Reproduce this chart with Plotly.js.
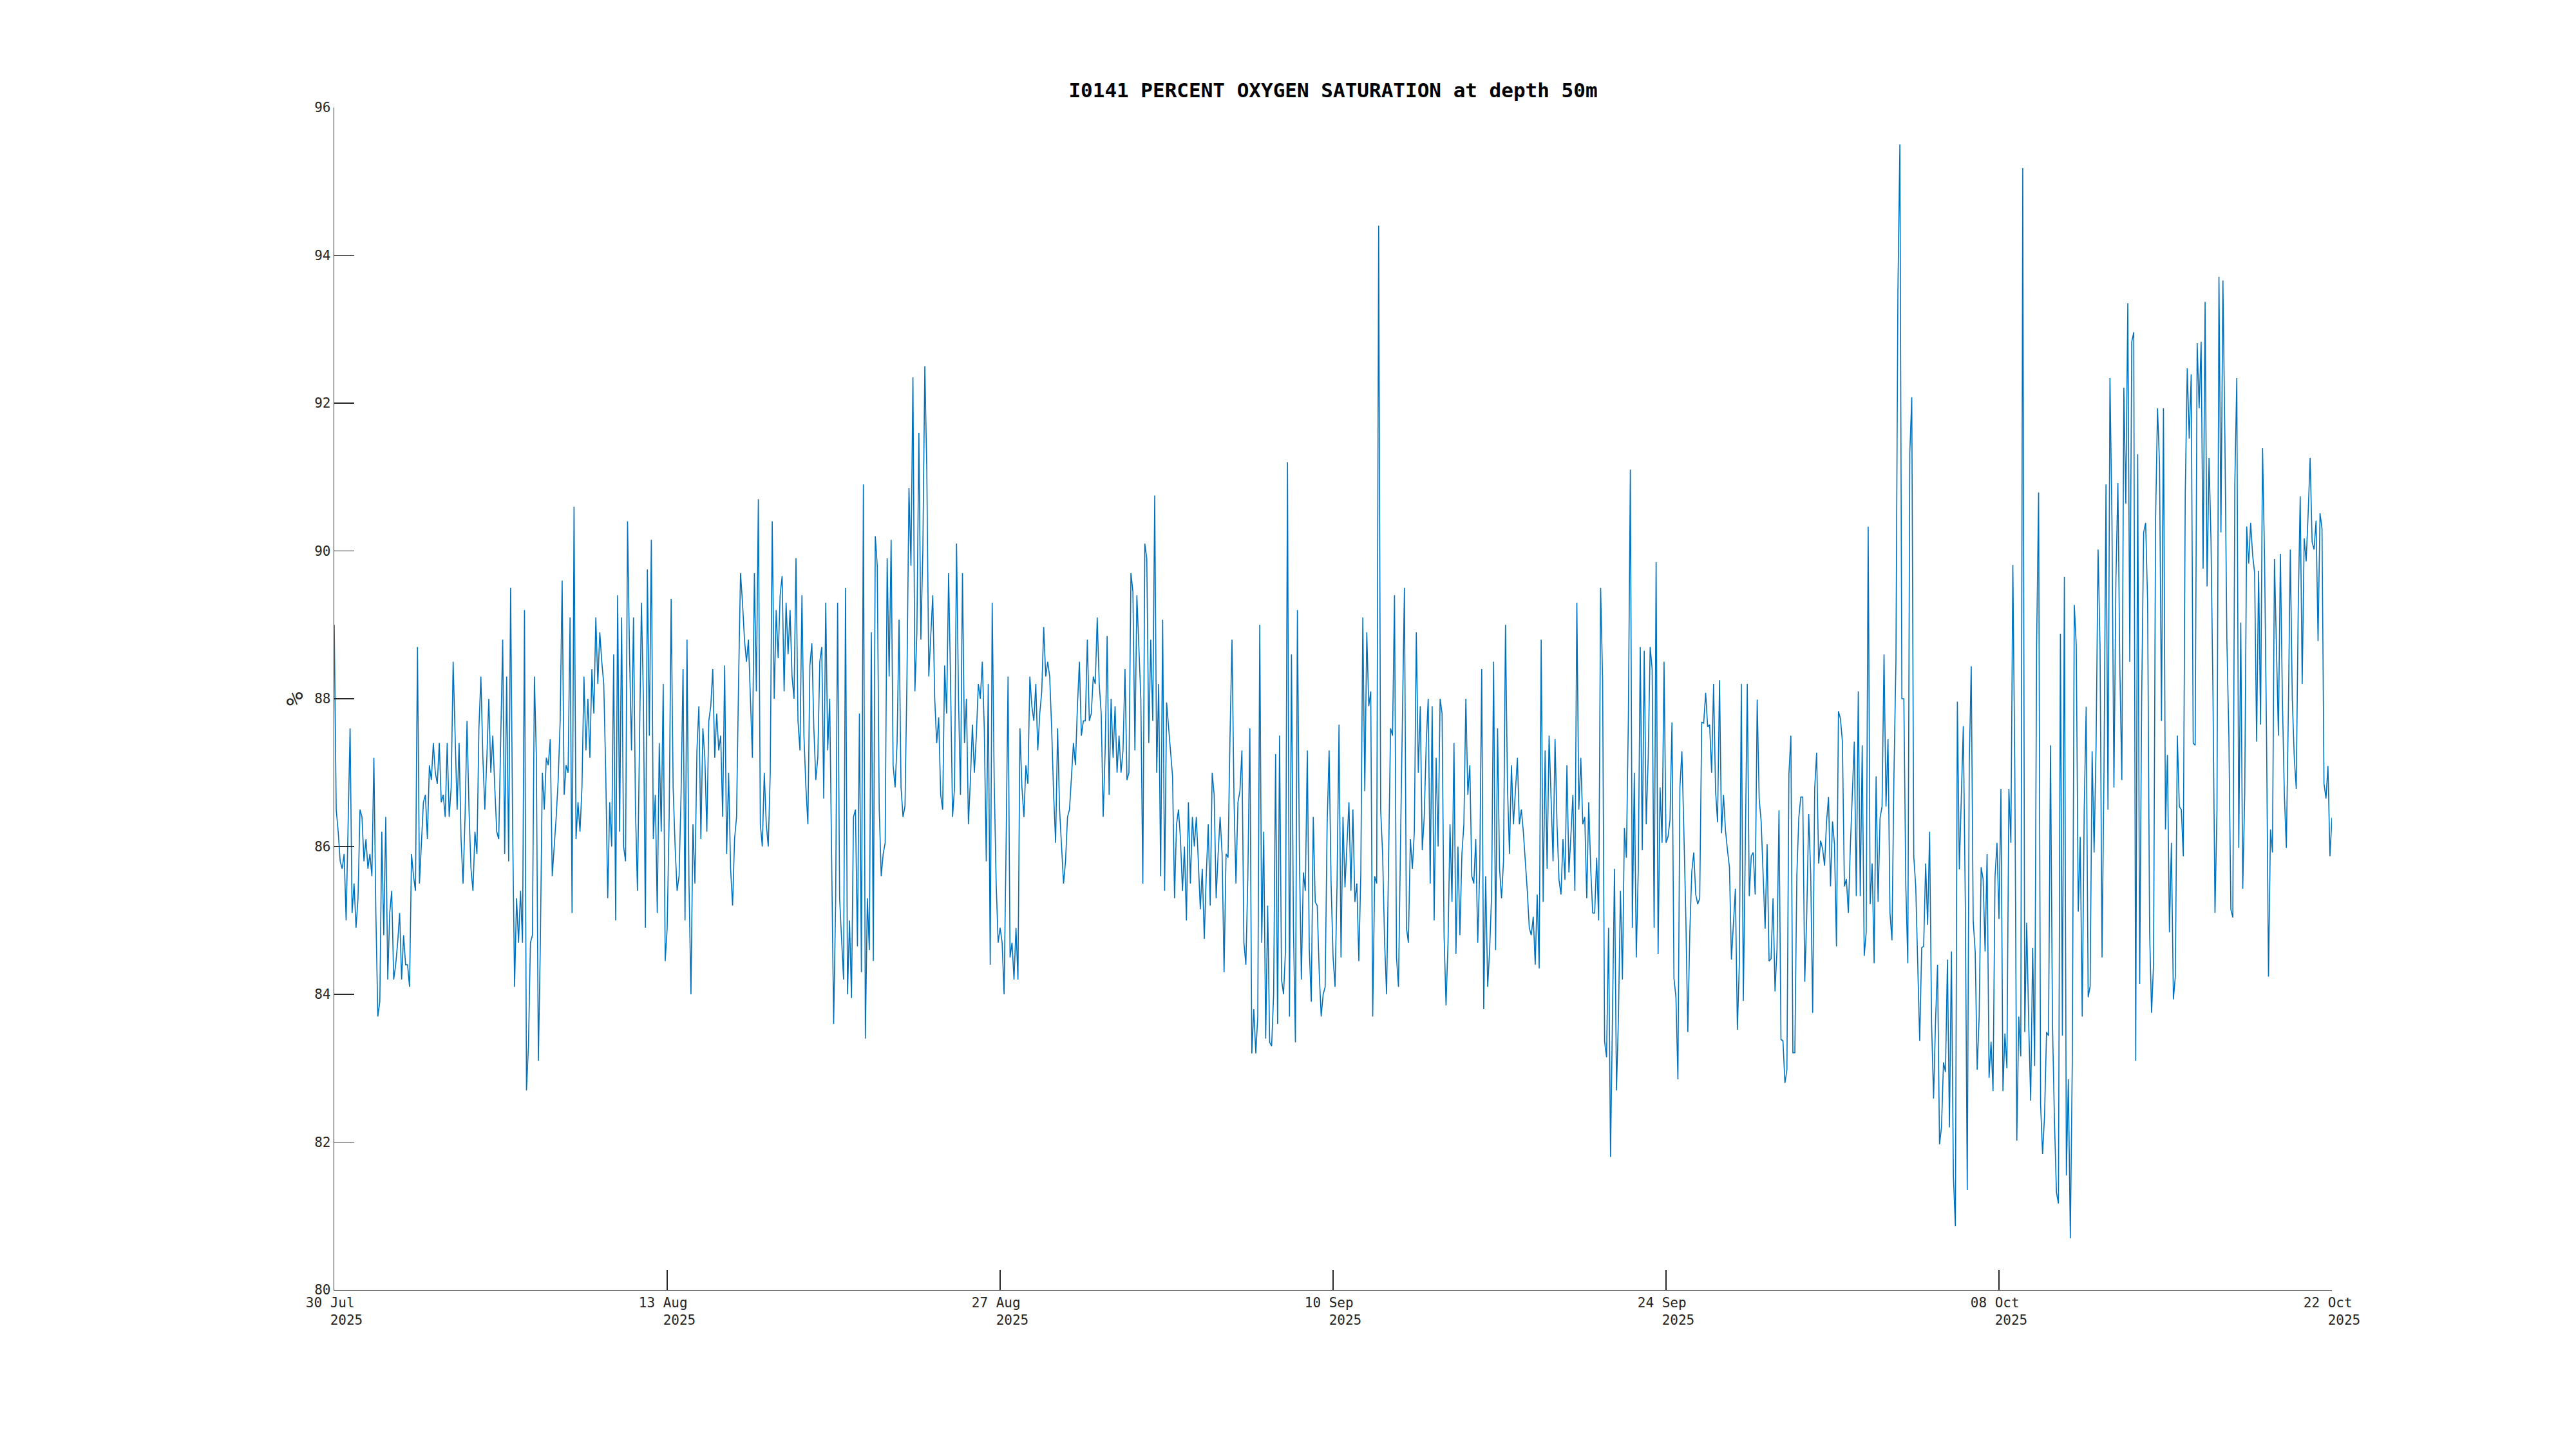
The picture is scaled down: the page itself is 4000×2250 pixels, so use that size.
<!DOCTYPE html>
<html>
<head>
<meta charset="utf-8">
<script src="https://cdn.plot.ly/plotly-3.0.1.min.js"></script>
<style>
html,body{margin:0;padding:0;background:#ffffff;}
#chart{width:4000px;height:2250px;}
</style>
</head>
<body>
<div id="chart"></div>
<script>
// ---- DATA (percent oxygen saturation, 2-hourly, starting 30 Jul 2025 00:00) ----
const startTime = '2025-07-30T00:00:00';
const stepHours = 2;

const week01 = [
 89.0,86.5,86.2,85.8,85.7,85.9,85.0,86.3,87.6,85.1,85.5,84.9,
 85.3,86.5,86.4,85.8,86.1,85.7,85.9,85.6,87.2,85.1,83.7,83.9,
 86.2,84.8,86.4,84.2,85.1,85.4,84.2,84.4,84.7,85.1,84.2,84.8,
 84.4,84.4,84.1,85.9,85.6,85.4,88.7,85.5,86.0,86.6,86.7,86.1,
 87.1,86.9,87.4,87.0,86.85,87.4,86.6,86.7,86.4,87.4,86.4,86.8,
 88.5,87.6,86.5,87.4,86.1,85.5,86.4,87.7,86.5,85.7,85.4,86.2,
 85.9,87.6,88.3,87.2,86.5,87.2,88.0,87.0,87.5,86.8,86.2,86.1];
const week02 = [
 87.6,88.8,85.9,88.3,85.8,89.5,86.3,84.1,85.3,84.7,85.4,84.7,
 89.2,82.7,83.3,84.7,84.8,88.3,87.2,83.1,84.7,87.0,86.5,87.2,
 87.1,87.45,85.6,86.0,86.4,86.9,87.7,89.6,86.7,87.1,87.0,89.1,
 85.1,90.6,86.1,86.6,86.2,86.8,88.3,87.3,88.0,87.2,88.4,87.8,
 89.1,88.2,88.9,88.5,88.2,87.0,85.3,86.6,86.0,88.6,85.0,89.4,
 86.2,89.1,86.0,85.8,90.4,88.6,87.3,89.1,86.5,85.4,87.2,89.3,
 88.0,84.9,89.75,87.5,90.15,86.1,86.7,85.1,87.4,86.2,88.2,84.45];
const week03 = [
 84.9,86.4,89.35,86.8,86.0,85.4,85.6,86.7,88.4,85.0,88.8,85.5,
 84.0,86.3,85.5,87.3,87.9,86.1,87.6,87.2,86.2,87.7,87.9,88.4,
 87.2,87.8,87.3,87.5,86.4,88.45,85.9,87.0,85.7,85.2,86.1,86.4,
 88.2,89.7,89.3,88.8,88.5,88.8,88.0,87.2,89.7,88.1,90.7,86.3,
 86.0,87.0,86.3,86.0,87.0,90.4,88.0,89.2,88.55,89.4,89.66,88.1,
 89.3,88.6,89.2,88.3,88.0,89.9,87.7,87.3,89.4,87.5,86.8,86.3,
 88.45,88.75,87.6,86.9,87.2,88.5,88.7,86.65,89.3,87.3,88.0,86.0];
const week04 = [
 83.6,85.25,89.3,85.3,84.8,84.2,89.5,84.0,85.0,83.95,86.4,86.5,
 84.65,87.8,84.3,90.9,83.4,85.3,84.6,88.9,84.45,90.2,89.8,86.5,
 85.6,85.9,86.05,89.9,88.3,90.15,87.1,86.8,87.4,89.07,86.8,86.4,
 86.55,88.3,90.85,89.8,92.35,88.1,88.9,91.6,88.8,90.0,92.5,91.1,
 88.3,88.9,89.4,88.0,87.4,87.75,86.7,86.5,88.45,87.8,89.7,88.2,
 86.4,86.8,90.1,88.0,86.7,89.7,87.4,88.0,86.3,86.9,87.65,87.0,
 87.5,88.2,88.0,88.5,87.6,85.8,88.2,84.4,89.3,86.9,85.5,84.7];
const week05 = [
 84.9,84.7,84.0,86.0,88.3,84.5,84.7,84.2,84.9,84.2,87.6,86.8,
 86.4,87.1,86.85,88.3,87.9,87.7,88.2,87.3,87.8,88.1,88.97,88.3,
 88.5,88.3,87.6,86.7,86.05,87.6,86.5,86.0,85.5,85.8,86.4,86.5,
 87.0,87.4,87.1,87.9,88.5,87.5,87.7,87.7,88.8,87.7,87.8,88.3,
 88.2,89.1,88.2,87.8,86.4,87.3,88.85,86.7,88.0,87.2,87.9,87.0,
 87.5,87.0,87.3,88.4,86.9,87.0,89.7,89.45,87.3,89.4,88.7,88.0,
 85.5,90.1,89.9,87.4,88.8,87.7,90.75,87.0,88.2,85.6,89.07,85.4];
const week06 = [
 87.95,87.6,87.3,86.95,85.3,86.3,86.5,86.1,85.4,86.0,85.0,86.6,
 85.5,86.4,86.0,86.4,85.8,85.15,85.7,84.75,85.6,86.3,85.2,87.0,
 86.7,85.3,85.9,86.4,85.9,84.3,85.9,85.85,87.5,88.8,86.65,85.5,
 86.6,86.75,87.3,84.7,84.4,85.6,87.6,83.2,83.8,83.2,83.7,89.0,
 84.7,86.2,83.4,85.2,83.35,83.3,84.0,87.25,83.6,87.5,84.2,84.0,
 84.6,91.2,83.7,88.6,84.9,83.35,89.2,85.9,84.2,85.65,85.4,87.3,
 84.6,83.9,86.4,85.25,85.2,84.3,83.7,84.0,84.1,86.3,87.3,85.5];
const week07 = [
 84.5,84.1,85.5,87.65,84.5,86.4,85.45,86.0,86.6,85.4,86.5,85.25,
 85.5,84.45,85.65,89.1,86.75,88.9,87.9,88.1,83.7,85.6,85.5,94.4,
 86.5,85.9,84.7,84.0,86.0,87.6,87.5,89.4,84.5,84.1,86.0,87.85,
 89.5,84.9,84.7,86.1,85.7,86.2,88.9,87.0,87.9,85.95,86.4,87.4,
 88.0,85.5,87.9,85.0,87.2,86.0,88.0,87.8,84.8,83.85,84.7,86.3,
 85.25,87.4,84.55,86.0,84.8,85.9,86.3,88.0,86.7,87.1,85.6,85.5,
 86.1,84.7,85.7,88.4,83.8,85.6,84.1,84.6,85.35,88.5,84.6,87.6];
const week08 = [
 85.7,85.3,85.8,89.0,86.8,85.9,87.1,86.3,86.8,87.2,86.3,86.5,
 86.2,85.8,85.4,84.9,84.8,85.05,84.4,85.35,84.35,88.8,85.25,87.3,
 85.7,87.5,86.6,85.8,87.45,86.3,85.55,85.35,86.1,85.55,87.1,85.65,
 86.15,86.7,85.4,89.3,86.5,87.2,86.3,86.4,85.3,86.6,85.7,85.1,
 85.1,85.85,85.0,89.5,88.27,83.36,83.15,84.9,81.8,84.0,85.7,82.7,
 83.7,85.4,84.2,86.25,85.85,87.75,91.1,84.9,87.0,84.5,85.7,88.7,
 85.95,88.65,86.3,87.2,88.7,88.4,84.9,89.85,84.55,86.8,86.05,88.5];
const week09 = [
 86.05,86.13,86.36,87.68,84.22,83.96,82.85,86.8,87.29,86.21,85.04,83.49,
 84.84,85.66,85.92,85.35,85.22,85.3,87.68,87.67,88.08,87.62,87.65,87.0,
 88.2,86.75,86.33,88.25,86.18,86.7,86.22,85.95,85.72,84.47,84.94,85.43,
 83.52,84.42,88.2,83.91,85.99,88.2,85.33,85.87,85.92,85.35,87.99,86.65,
 86.34,85.61,84.89,86.03,84.45,84.48,85.3,84.04,84.61,86.49,83.39,83.37,
 82.8,82.98,86.98,87.5,83.21,83.21,85.61,86.39,86.67,86.67,84.17,85.07,
 86.44,85.63,83.75,86.78,87.27,85.77,86.08,85.97,85.74,86.34,86.67,85.46];
const week10 = [
 86.34,86.03,84.65,87.83,87.73,87.42,85.46,85.56,85.1,86.0,86.8,87.42,
 85.33,88.1,85.33,87.37,84.52,84.84,90.33,85.22,85.77,84.42,86.95,85.25,
 86.39,86.54,88.6,86.54,87.45,85.1,84.73,86.96,88.5,93.5,95.5,88.0,
 88.0,85.46,84.42,91.33,92.08,85.87,85.46,84.5,83.37,84.63,84.65,85.77,
 84.94,86.2,83.6,82.59,83.65,84.4,81.97,82.2,83.08,82.95,84.47,82.2,
 84.58,81.53,80.86,87.96,85.69,86.67,87.63,85.28,81.35,87.11,88.44,84.99,
 84.58,82.98,83.7,85.72,85.56,84.58,85.9,82.87,83.36,82.69,85.59,86.05];
const week11 = [
 85.02,86.78,82.69,83.47,83.0,86.78,86.05,89.81,87.01,82.02,83.7,83.16,
 95.18,83.49,84.97,83.6,82.56,84.63,83.03,88.75,90.79,82.51,81.84,82.36,
 83.49,83.44,87.37,83.6,82.28,81.32,81.17,88.88,83.44,89.65,81.55,82.85,
 80.7,83.11,89.27,88.72,85.12,86.13,83.7,86.49,87.89,83.96,84.11,87.29,
 85.92,87.37,90.02,88.7,84.5,87.06,90.9,86.5,92.34,90.43,86.8,89.6,
 90.92,88.39,86.9,92.21,90.64,93.35,88.5,92.83,92.96,83.1,91.31,84.14,
 88.0,90.25,90.38,89.32,84.86,83.75,84.42,90.38,91.93,91.18,87.7,91.93];
const week12 = [
 86.23,87.24,84.84,86.05,83.93,84.25,87.5,86.54,86.5,85.87,90.79,92.47,
 91.52,92.39,87.4,87.37,92.81,91.93,92.83,89.76,93.37,89.52,91.26,90.12,
 88.0,85.1,86.49,93.71,90.25,93.66,91.52,88.78,87.5,85.15,85.04,90.9,
 92.34,85.98,89.03,85.43,86.7,90.33,89.83,90.38,89.94,89.7,87.42,89.73,
 87.65,91.39,89.91,87.52,84.24,86.23,85.92,89.89,88.7,87.5,89.96,88.0,
 86.7,85.98,87.8,90.02,88.0,87.2,86.78,89.24,90.74,88.2,90.17,89.86,
 90.5,91.26,90.12,90.02,90.41,88.78,90.51,90.3,86.85,86.65,87.09,85.87,
 86.39];

const tickDates = ['2025-07-30','2025-08-13','2025-08-27','2025-09-10','2025-09-24','2025-10-08','2025-10-22'];
const tickDayLabels = ['30 Jul','13 Aug','27 Aug','10 Sep','24 Sep','08 Oct','22 Oct'];
const tickYearLabels = ['2025','2025','2025','2025','2025','2025','2025'];
const yTickValues = [80,82,84,86,88,90,92,94,96];
const xRange = ['2025-07-30','2025-10-22'];
const yRange = [80,96];

// ---- BUILD ----
const sat = [].concat(week01,week02,week03,week04,week05,week06,week07,week08,week09,week10,week11,week12);
const t0 = Date.parse(startTime + 'Z');
const times = sat.map((_, i) => new Date(t0 + i * stepHours * 3600000).toISOString().slice(0,19).replace('T',' '));

const NB = '\u00a0';
const tickText = tickDayLabels.map((d, i) => d + NB + '<br>' + NB + NB + NB + tickYearLabels[i]);

const axisColor = '#262626';
const tickFont = {family: 'DejaVu Sans Mono', size: 21, color: axisColor};

const trace = {
  x: times, y: sat, type: 'scatter', mode: 'lines',
  line: {color: '#0072BD', width: 1.6},
  hoverinfo: 'skip'
};

const layout = {
  width: 4000, height: 2250,
  margin: {l: 519, r: 379, t: 167, b: 247, pad: 0},
  paper_bgcolor: '#ffffff', plot_bgcolor: '#ffffff',
  showlegend: false,
  title: {
    text: '<b>I0141 PERCENT OXYGEN SATURATION at depth 50m</b>',
    font: {family: 'DejaVu Sans Mono', size: 31, color: '#000000'},
    xref: 'paper', x: 0.5, xanchor: 'center',
    yref: 'container', y: 1 - 140 / 2250, yanchor: 'middle'
  },
  xaxis: {
    type: 'date', range: xRange,
    tickmode: 'array', tickvals: tickDates, ticktext: tickText,
    ticks: 'inside', ticklen: 31, tickwidth: 1.3, tickcolor: axisColor,
    showline: true, linecolor: axisColor, linewidth: 1.3, mirror: false,
    showgrid: false, zeroline: false, tickfont: tickFont, fixedrange: true
  },
  yaxis: {
    range: yRange,
    tickmode: 'array', tickvals: yTickValues,
    ticks: 'inside', ticklen: 31, tickwidth: 1.3, tickcolor: axisColor,
    showline: true, linecolor: axisColor, linewidth: 1.3, mirror: false,
    showgrid: false, zeroline: false, tickfont: tickFont, fixedrange: true
  },
  annotations: [{
    text: '%', textangle: -90, showarrow: false,
    xref: 'paper', yref: 'paper', x: (457 - 519) / 3102, y: 0.5,
    xanchor: 'center', yanchor: 'middle',
    font: {family: 'DejaVu Sans Mono', size: 36, color: axisColor}
  }]
};

Plotly.newPlot('chart', [trace], layout, {staticPlot: true, displayModeBar: false});
</script>
</body>
</html>
